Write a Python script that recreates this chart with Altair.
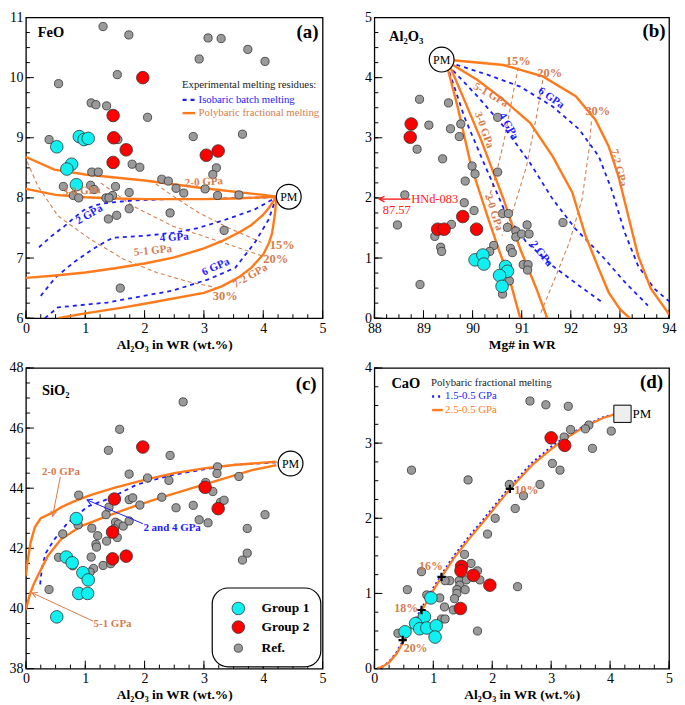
import math
import altair as alt
import numpy as np
import pandas as pd

FONT = "Liberation Serif, Times New Roman, Tinos, DejaVu Serif, serif"
ORANGE = "#ff7a1a"
LABEL = "#d67c4c"
ISO = "#cf8152"
BLUE = "#1c1cff"
RED = "#ff0000"
CYAN = "#10f0f0"
GRAY = "#9a9a9a"
H = 302

# ---------------- Panel (a) FeO vs Al2O3 ----------------
a_gray_x = [1.30, 1.735, 3.07, 3.29, 2.92, 3.74, 4.03, 0.55, 1.54, 1.10, 1.18, 1.36, 2.05, 0.39, 1.55, 2.82,
            3.65, 1.79, 1.92, 3.21, 3.15, 1.11, 1.22, 2.29, 2.40, 2.53, 2.66, 3.02, 3.23, 3.59, 0.63, 0.80,
            0.89, 1.09, 1.15, 1.51, 1.46, 1.35, 1.40, 1.74, 1.74, 2.43, 1.39, 1.53, 3.34, 1.59]
a_gray_y = [10.85, 10.71, 10.66, 10.65, 10.31, 10.47, 10.27, 9.90, 10.05, 9.58, 9.55, 9.53, 9.34, 8.97, 8.97, 9.02,
            9.06, 8.56, 8.51, 8.50, 8.39, 8.43, 8.43, 8.31, 8.28, 8.16, 8.08, 8.15, 8.04, 8.05, 8.19, 8.04,
            8.00, 8.21, 8.14, 8.19, 8.04, 8.00, 8.00, 8.09, 7.82, 7.75, 7.65, 7.71, 7.46, 6.50]
a_red_x = [1.97, 1.47, 1.48, 1.69, 1.47, 3.04, 3.24]
a_red_y = [10.0, 9.37, 9.00, 8.80, 8.59, 8.71, 8.78]
a_cyan_x = [0.52, 0.90, 0.98, 1.05, 0.77, 0.69, 0.85]
a_cyan_y = [8.85, 9.02, 8.97, 8.99, 8.56, 8.48, 8.22]

a_solid = {
    "2-0": ([0, 0.48, 1, 2, 3, 4, 4.22], [8.68, 8.47, 8.39, 8.29, 8.16, 8.05, 8.02]),
    "3-0": ([0, 0.5, 1, 1.5, 2, 2.5, 3, 3.5, 4, 4.22], [8.15, 8.05, 8.01, 7.99, 7.98, 7.98, 7.98, 7.99, 8.01, 8.02]),
    "5-1": ([0, 0.5, 1, 1.5, 2, 2.5, 3, 3.3, 3.6, 3.8, 4.0, 4.1, 4.22],
            [6.67, 6.71, 6.76, 6.83, 6.91, 7.01, 7.16, 7.28, 7.43, 7.55, 7.72, 7.84, 8.02]),
    "7-2": ([0.54, 1, 1.65, 2, 3, 3.3, 3.6, 3.8, 4.0, 4.1, 4.15, 4.2, 4.22],
            [6.0, 6.08, 6.18, 6.24, 6.42, 6.53, 6.69, 6.84, 7.06, 7.26, 7.42, 7.75, 8.02]),
}
a_blue = {
    "2": ([0.22, 0.45, 0.65, 0.85, 0.98, 1.15, 1.31, 1.6, 1.87, 2.4, 2.98, 3.6, 4.22],
          [7.18, 7.38, 7.53, 7.70, 7.80, 7.87, 7.91, 7.94, 7.96, 7.98, 7.98, 8.0, 8.01]),
    "4": ([0.25, 0.5, 0.81, 1.1, 1.35, 1.48, 2.0, 2.48, 2.9, 3.31, 3.86, 4.22],
          [6.37, 6.68, 6.93, 7.13, 7.28, 7.34, 7.37, 7.42, 7.50, 7.62, 7.81, 8.01]),
    "6": ([0.32, 0.54, 1.37, 2.48, 3.09, 3.53, 3.86, 4.09, 4.22],
          [6.0, 6.18, 6.26, 6.46, 6.65, 6.84, 7.26, 7.64, 8.01]),
}
a_iso = {
    "15": ([2.09, 2.48, 2.92, 3.42, 3.97], [8.30, 8.03, 7.75, 7.50, 7.26]),
    "20": ([1.26, 1.81, 2.48, 3.31, 3.97], [8.25, 7.86, 7.53, 7.26, 7.04]),
    "30": ([0.02, 0.2, 0.54, 1.09, 1.65, 2.2, 2.76, 3.2], [8.6, 8.2, 7.70, 7.31, 6.98, 6.76, 6.60, 6.51]),
}
a_lab_t = ["2-0 GPa", "3-0 GPa", "5-1 GPa", "7-2 GPa"]
a_lab_x = [3.0, 0.94, 2.14, 3.78]
a_lab_y = [8.26, 8.11, 7.12, 6.70]
a_lab_a = [357, 357, 354, 330]
a_pct_t = ["15%", "20%", "30%"]
a_pct_x = [4.32, 4.21, 3.36]
a_pct_y = [7.22, 6.98, 6.37]
a_blab_t = ["2 GPa", "4 GPa", "6 GPa"]
a_blab_x = [1.07, 2.5, 3.2]
a_blab_y = [7.72, 7.34, 6.85]
a_blab_a = [330, 356, 336]

# ---------------- Panel (b) Al2O3 vs Mg# ----------------
b_gray_x = [88.92, 89.51, 89.11, 89.55, 89.76, 89.73, 88.87, 89.39, 89.99, 90.05, 89.85, 90.51, 90.51, 88.62,
            89.83, 90.03, 88.47, 89.57, 89.23, 89.35, 89.37, 90.43, 90.35, 90.61, 90.73, 90.71, 90.88, 90.88,
            91.0, 91.11, 91.15, 90.77, 90.81, 91.03, 91.13, 91.12, 90.75, 90.61, 91.84, 88.93]
b_gray_y = [3.64, 3.58, 3.21, 3.15, 3.23, 3.02, 2.81, 2.65, 2.53, 2.40, 2.28, 2.43, 3.34, 2.05,
            1.92, 1.79, 1.55, 1.56, 1.36, 1.18, 1.11, 1.21, 1.11, 1.74, 1.74, 1.51, 1.45, 1.35,
            1.40, 1.55, 1.40, 1.16, 1.09, 0.89, 0.89, 0.80, 0.62, 0.40, 1.59, 0.56]
b_red_x = [88.75, 88.73, 89.29, 89.42, 89.8, 90.08]
b_red_y = [3.23, 3.01, 1.48, 1.48, 1.69, 1.48]
b_cyan_x = [90.05, 90.21, 90.23, 90.67, 90.71, 90.55, 90.6]
b_cyan_y = [0.97, 1.05, 0.90, 0.86, 0.78, 0.71, 0.53]

b_solid = {
    "2-0": ([89.47, 89.5, 89.7, 89.97, 90.3, 90.53, 90.77, 90.97], [4.2, 4.13, 3.5, 2.53, 1.70, 1.15, 0.60, 0.0]),
    "3-0": ([89.5, 89.57, 89.83, 90.17, 90.63, 90.97, 91.3, 91.52], [4.22, 4.13, 3.63, 2.97, 1.98, 1.15, 0.49, 0.0]),
    "5-1": ([89.55, 89.6, 90.1, 90.63, 91.17, 91.63, 92.03, 92.3, 92.57, 92.77, 93.0, 93.2],
            [4.24, 4.21, 3.96, 3.63, 3.25, 2.69, 2.09, 1.37, 0.82, 0.43, 0.15, 0.0]),
    "7-2": ([89.55, 89.6, 90.63, 91.43, 92.1, 92.5, 92.77, 92.97, 93.17, 93.37, 93.63, 93.97, 94.0],
            [4.29, 4.29, 4.21, 4.02, 3.69, 3.30, 2.86, 2.36, 1.70, 1.04, 0.49, 0.10, 0.06]),
}
b_blue = {
    "2": ([89.48, 89.5, 89.83, 90.23, 90.7, 91.1, 91.63, 92.17, 92.63],
          [4.22, 4.16, 3.35, 2.58, 1.70, 1.26, 0.87, 0.54, 0.27]),
    "4": ([89.5, 89.53, 90.1, 90.63, 91.17, 91.63, 92.1, 92.63, 93.1, 93.57],
          [4.22, 4.18, 3.69, 3.19, 2.58, 1.98, 1.48, 1.04, 0.60, 0.21]),
    "6": ([89.52, 89.57, 90.3, 90.97, 91.63, 92.17, 92.57, 92.83, 93.1, 93.37, 93.7, 94.0],
          [4.26, 4.24, 4.05, 3.85, 3.52, 3.14, 2.69, 2.14, 1.42, 0.87, 0.49, 0.28]),
}
b_iso = {
    "15": ([90.93, 90.8, 90.63, 90.47, 90.3], [4.17, 3.63, 2.91, 2.36, 1.92]),
    "20": ([91.43, 91.3, 91.1, 90.83, 90.6], [3.96, 3.35, 2.53, 1.81, 1.37]),
    "30": ([92.42, 92.37, 92.23, 91.97, 91.7, 91.37], [3.27, 2.80, 1.98, 1.26, 0.71, 0.05]),
}
b_lab_t = ["5-1 GPa", "3-0 GPa", "2-0 GPa", "7-2 GPa"]
b_lab_x = [90.37, 90.23, 90.43, 92.97]
b_lab_y = [3.71, 3.13, 1.76, 2.5]
b_lab_a = [30, 70, 72, 75]
b_pct_t = ["15%", "20%", "30%"]
b_pct_x = [90.93, 91.57, 92.55]
b_pct_y = [4.27, 4.07, 3.45]
b_blab_t = ["6 GPa", "4 GPa", "2 GPa"]
b_blab_x = [91.6, 90.73, 91.4]
b_blab_y = [3.66, 3.19, 1.07]
b_blab_a = [35, 60, 52]

# ---------------- Panel (c) SiO2 vs Al2O3 ----------------
c_gray_x = [2.65, 1.58, 1.39, 2.43, 1.74, 2.05, 2.41, 3.59, 3.23, 3.22, 3.03, 3.15, 3.28, 3.34, 0.89, 1.74, 1.80,
            2.29, 1.92, 2.53, 2.82, 1.35, 1.40, 1.51, 1.56, 1.64, 1.74, 1.49, 1.54, 0.88, 1.11, 1.21, 1.18, 1.19,
            1.36, 0.62, 2.92, 3.07, 4.03, 3.73, 3.73, 3.65, 0.55, 1.10, 1.14, 1.08, 1.30, 1.43, 0.39, 0.79]
c_gray_y = [46.87, 45.96, 45.26, 45.09, 44.47, 44.34, 44.26, 44.39, 44.71, 44.49, 44.19, 43.89, 43.53, 43.60, 43.77,
            43.62, 43.68, 43.70, 43.44, 43.35, 43.43, 43.12, 43.37, 42.87, 42.81, 42.74, 42.91, 42.65, 42.36, 42.78,
            42.67, 42.42, 42.13, 42.04, 42.24, 42.48, 42.95, 42.85, 43.12, 42.66, 41.84, 41.61, 41.70, 41.71, 41.33,
            41.21, 41.43, 41.49, 40.63, 41.42]
c_red_x = [1.97, 1.49, 1.46, 1.46, 1.69, 3.02, 3.24]
c_red_y = [45.37, 43.64, 42.54, 41.65, 41.74, 44.03, 43.32]
c_cyan_x = [0.85, 0.68, 0.78, 0.96, 1.05, 0.89, 1.04, 0.52]
c_cyan_y = [42.99, 41.71, 41.52, 41.19, 40.95, 40.5, 40.5, 39.72]

c_solid = {
    "2-0": ([0, 0.03, 0.08, 0.15, 0.25, 0.43, 0.6, 0.81, 1.1, 1.5, 2, 2.5, 3, 3.5, 4, 4.22],
            [41.09, 41.6, 42.2, 42.7, 43.0, 43.17, 43.37, 43.56, 43.78, 44.02, 44.28, 44.5, 44.66, 44.77, 44.85,
             44.88]),
    "5-1": ([0, 0.03, 0.07, 0.13, 0.2, 0.37, 0.59, 0.93, 1.37, 1.81, 2.3, 2.8, 3.25, 3.81, 4.22],
            [39.94, 40.2, 40.49, 40.8, 41.09, 41.75, 42.30, 42.74, 43.07, 43.39, 43.7, 44.0, 44.27, 44.6, 44.77]),
}
c_blue = {
    "2-4": ([0.24, 0.25, 0.27, 0.3, 0.34, 0.48, 0.70, 1.04, 1.42, 1.87, 2.42, 2.98, 3.53, 4.22],
            [40.8, 41.0, 41.31, 41.6, 41.86, 42.30, 42.84, 43.39, 43.67, 44.12, 44.42, 44.62, 44.78, 44.86]),
}

# ---------------- Panel (d) CaO vs Al2O3 ----------------
d_gray_x = [2.64, 2.91, 3.29, 3.33, 3.64, 3.58, 4.02, 3.22, 3.70, 3.02, 3.15, 2.81, 2.29, 2.53, 2.39, 2.05, 1.92,
            0.63, 1.59, 1.53, 1.64, 1.75, 1.79, 0.80, 1.28, 1.20, 1.44, 1.45, 1.56, 1.40, 1.54, 1.40, 1.36, 1.34,
            1.19, 1.11, 0.89, 0.56, 1.14, 1.20, 0.77, 1.75, 2.43, 0.40]
d_gray_y = [3.56, 3.51, 3.49, 3.18, 3.24, 3.19, 3.16, 3.08, 2.93, 2.73, 2.64, 2.45, 2.45, 2.30, 2.13, 2.00, 1.79,
            2.64, 2.51, 1.52, 1.40, 1.30, 1.18, 1.29, 1.17, 1.17, 1.17, 1.11, 1.18, 1.05, 1.05, 1.00, 0.93, 0.78,
            0.82, 0.94, 0.98, 1.05, 0.66, 0.66, 0.52, 0.50, 1.09, 0.47]
d_red_x = [3.0, 3.23, 1.48, 1.47, 1.68, 1.96, 1.46]
d_red_y = [3.07, 2.97, 1.36, 1.30, 1.24, 1.11, 0.80]
d_cyan_x = [0.96, 0.85, 0.70, 0.77, 0.89, 1.05, 1.03, 0.52]
d_cyan_y = [0.94, 0.69, 0.60, 0.53, 0.54, 0.57, 0.42, 0.49]

d_curve_x = [0.05, 0.15, 0.26, 0.38, 0.5, 0.65, 0.81, 1.0, 1.14, 1.35, 1.58, 1.91, 2.30, 2.68, 3.0, 3.24, 3.57,
             3.90, 4.12, 4.2]
d_orange_y = [0.0, 0.03, 0.09, 0.2, 0.37, 0.57, 0.78, 1.04, 1.22, 1.47, 1.70, 2.01, 2.39, 2.71, 2.92, 3.06, 3.22,
              3.34, 3.39, 3.40]
d_blue_y = [0.0, 0.03, 0.1, 0.22, 0.39, 0.59, 0.81, 1.07, 1.25, 1.50, 1.73, 2.04, 2.42, 2.74, 2.95, 3.08, 3.23,
            3.35, 3.39, 3.40]
d_cross_x = [0.48, 0.80, 1.14, 2.30]
d_cross_y = [0.38, 0.78, 1.22, 2.39]
d_pct_t = ["20%", "18%", "16%", "10%"]
d_pct_x = [0.70, 0.54, 0.96, 2.58]
d_pct_y = [0.28, 0.80, 1.37, 2.37]


# ---------------- helpers ----------------
def curves_df(curves):
    rows = []
    for name, (xs, ys) in curves.items():
        for i, (x, y) in enumerate(zip(xs, ys)):
            rows.append({"c": name, "i": i, "x": x, "y": y})
    return pd.DataFrame(rows)


def pts(xs, ys):
    return pd.DataFrame({"x": xs, "y": ys})


def txt(ts, xs, ys, angs=None):
    return pd.DataFrame({"t": ts, "x": xs, "y": ys, "a": angs if angs is not None else [0] * len(ts)})


class Panel:
    def __init__(self, xdom, ydom, xtitle, xlabels, ylabels, xminor, yminor, w, h=H):
        self.xdom, self.ydom, self.w, self.h = xdom, ydom, w, h
        self.xs = alt.Scale(domain=xdom, nice=False, zero=False)
        self.ys = alt.Scale(domain=ydom, nice=False, zero=False)
        self.xax = alt.Axis(title=xtitle, values=xlabels, ticks=False, domain=False, grid=False,
                            labelPadding=3, titlePadding=2, format="d", labelFlush=False)
        self.yax = alt.Axis(title=None, values=ylabels, ticks=False, domain=False, grid=False,
                            labelPadding=3, format="d", labelFlush=False)
        self.layers = []
        xmaj = pd.DataFrame({"x": xlabels})
        xmin = pd.DataFrame({"x": list(np.arange(xdom[0], xdom[1] + 1e-9, xminor))})
        ymaj = pd.DataFrame({"y": ylabels})
        ymin = pd.DataFrame({"y": list(np.arange(ydom[0], ydom[1] + 1e-9, yminor))})
        for df, ln in ((xmin, 4), (xmaj, 8)):
            self.layers.append(alt.Chart(df).mark_rule(color="black", strokeWidth=1).encode(
                x=self.X(), y=alt.value(h), y2=alt.value(h - ln)))
        for df, ln in ((ymin, 4), (ymaj, 8)):
            self.layers.append(alt.Chart(df).mark_rule(color="black", strokeWidth=1).encode(
                y=self.Y(), x=alt.value(0), x2=alt.value(ln)))

    def X(self, f="x"):
        return alt.X(f, type="quantitative", scale=self.xs, axis=self.xax)

    def Y(self, f="y"):
        return alt.Y(f, type="quantitative", scale=self.ys, axis=self.yax)

    def lines(self, curves, color, width, dash=None):
        kw = dict(color=color, strokeWidth=width, clip=True)
        if dash:
            kw["strokeDash"] = dash
        self.layers.append(alt.Chart(curves_df(curves)).mark_line(**kw).encode(
            x=self.X(), y=self.Y(), detail="c:N", order="i:Q"))

    def points(self, df, fill, size, sw=0.8):
        self.layers.append(alt.Chart(df).mark_point(
            shape="circle", filled=True, fill=fill, stroke="#333333", strokeWidth=sw, size=size,
            opacity=1).encode(x=self.X(), y=self.Y()))

    def texts(self, df, color, size, weight="bold", align="center", baseline="middle"):
        self.layers.append(alt.Chart(df).mark_text(
            font=FONT, fontSize=size, fontWeight=weight, color=color, align=align, baseline=baseline).encode(
            x=self.X(), y=self.Y(), text="t:N", angle=alt.Angle("a:Q", scale=None)))

    def segment(self, x1, y1, x2, y2, color, width=1.0, dash=None, head=True):
        df = pd.DataFrame({"c": ["s", "s"], "i": [0, 1], "x": [x1, x2], "y": [y1, y2]})
        kw = dict(color=color, strokeWidth=width)
        if dash:
            kw["strokeDash"] = dash
        self.layers.append(alt.Chart(df).mark_line(**kw).encode(
            x=self.X(), y=self.Y(), detail="c:N", order="i:Q"))
        if head:
            kx = self.w / (self.xdom[1] - self.xdom[0])
            ky = self.h / (self.ydom[1] - self.ydom[0])
            dx = (x2 - x1) * kx
            dyd = -(y2 - y1) * ky
            ang = math.degrees(math.atan2(dx, -dyd)) % 360
            hd = pd.DataFrame({"x": [x2], "y": [y2], "a": [ang]})
            self.layers.append(alt.Chart(hd).mark_point(
                shape="M -0.55 1 L 0 0 L 0.55 1", filled=False, stroke=color, strokeWidth=width,
                size=110, opacity=1).encode(x=self.X(), y=self.Y(), angle=alt.Angle("a:Q", scale=None)))

    def pm_circle(self, x, y):
        self.layers.append(alt.Chart(pts([x], [y])).mark_point(
            shape="circle", filled=True, fill="white", stroke="black", strokeWidth=1.2, size=620,
            opacity=1).encode(x=self.X(), y=self.Y()))
        self.texts(txt(["PM"], [x], [y]), "black", 12, weight="normal")

    def chart(self):
        return alt.layer(*self.layers).properties(width=self.w, height=self.h)


AL_TITLE = "Al\u2082O\u2083 in WR (wt.%)"
WL, WR = 298, 296
BIG, SMALL = 160, 68
GPA_FS, PCT_FS, LEG_FS = 11, 12.5, 10.8

# ---- (a)
pa = Panel([0, 5], [6, 11], AL_TITLE, [0, 1, 2, 3, 4, 5], [6, 7, 8, 9, 10, 11], 0.25, 0.25, WL)
pa.lines(a_iso, ISO, 1.1, [4, 3])
pa.lines(a_blue, BLUE, 1.8, [4, 4])
pa.lines(a_solid, ORANGE, 2.4)
pa.points(pts(a_gray_x, a_gray_y), GRAY, SMALL)
pa.points(pts(a_red_x, a_red_y), RED, BIG)
pa.points(pts(a_cyan_x, a_cyan_y), CYAN, BIG)
pa.pm_circle(4.43, 8.02)
pa.texts(txt(a_lab_t, a_lab_x, a_lab_y, a_lab_a), LABEL, GPA_FS)
pa.texts(txt(a_pct_t, a_pct_x, a_pct_y), LABEL, PCT_FS)
pa.texts(txt(a_blab_t, a_blab_x, a_blab_y, a_blab_a), BLUE, GPA_FS)
pa.texts(txt(["FeO"], [0.2], [10.74]), "black", 14.5, align="left")
pa.texts(txt(["(a)"], [4.93], [10.76]), "black", 19, align="right")
pa.texts(txt(["Experimental melting residues:"], [2.63], [9.87]), "#222222", LEG_FS, weight="normal",
         align="left")
pa.texts(txt(["Isobaric batch melting"], [2.91], [9.63]), BLUE, LEG_FS, weight="normal", align="left")
pa.texts(txt(["Polybaric fractional melting"], [2.91], [9.41]), LABEL, LEG_FS, weight="normal", align="left")
pa.segment(2.64, 9.63, 2.85, 9.63, BLUE, 2.2, dash=[4, 4], head=False)
pa.segment(2.64, 9.41, 2.85, 9.41, ORANGE, 2.4, head=False)

# ---- (b)
pb = Panel([88, 94], [0, 5], "Mg# in WR", [88, 89, 90, 91, 92, 93, 94], [0, 1, 2, 3, 4, 5], 0.25, 0.25, WR)
pb.lines(b_iso, ISO, 1.1, [4, 3])
pb.lines(b_blue, BLUE, 1.8, [4, 4])
pb.lines(b_solid, ORANGE, 2.4)
pb.points(pts(b_gray_x, b_gray_y), GRAY, SMALL)
pb.points(pts(b_red_x, b_red_y), RED, BIG)
pb.points(pts(b_cyan_x, b_cyan_y), CYAN, BIG)
pb.pm_circle(89.37, 4.30)
pb.texts(txt(b_lab_t, b_lab_x, b_lab_y, b_lab_a), LABEL, GPA_FS)
pb.texts(txt(b_pct_t, b_pct_x, b_pct_y), LABEL, PCT_FS)
pb.texts(txt(b_blab_t, b_blab_x, b_blab_y, b_blab_a), BLUE, GPA_FS)
pb.texts(txt(["Al\u2082O\u2083"], [88.3], [4.68]), "black", 14.5, align="left")
pb.texts(txt(["(b)"], [93.93], [4.78]), "black", 19, align="right")
pb.segment(88.73, 1.98, 88.1, 1.98, "#ff2020", 1.4)
pb.texts(txt(["HNd-083"], [88.75], [1.98]), "#ff2020", 12.5, weight="normal", align="left")
pb.texts(txt(["87.57"], [88.17], [1.80]), "#ff2020", 12.5, weight="normal", align="left")

# ---- (c)
pc = Panel([0, 5], [38, 48], AL_TITLE, [0, 1, 2, 3, 4, 5], [38, 40, 42, 44, 46, 48], 0.25, 0.5, WL)
pc.lines(c_blue, BLUE, 1.8, [4, 4])
pc.lines(c_solid, ORANGE, 2.4)
pc.points(pts(c_gray_x, c_gray_y), GRAY, SMALL)
pc.points(pts(c_red_x, c_red_y), RED, BIG)
pc.points(pts(c_cyan_x, c_cyan_y), CYAN, BIG)
pc.pm_circle(4.46, 44.82)
pc.segment(0.58, 44.38, 0.45, 43.07, LABEL, 1.0)
pc.segment(1.97, 42.82, 1.03, 43.61, BLUE, 1.0)
pc.segment(1.13, 39.58, 0.105, 40.52, LABEL, 1.0)
pc.texts(txt(["2-0 GPa"], [0.59], [44.55]), LABEL, GPA_FS)
pc.texts(txt(["2 and 4 GPa"], [1.98], [42.68]), BLUE, GPA_FS, align="left")
pc.texts(txt(["5-1 GPa"], [1.14], [39.47]), LABEL, GPA_FS, align="left")
pc.texts(txt(["SiO\u2082"], [0.27], [47.23]), "black", 14.5, align="left")
pc.texts(txt(["(c)"], [4.9], [47.45]), "black", 19, align="right")
legbox = pd.DataFrame({"x": [3.14], "x2": [4.97], "y": [38.06], "y2": [40.68]})
pc.layers.append(alt.Chart(legbox).mark_rect(
    cornerRadius=16, fill="white", stroke="black", strokeWidth=1.2).encode(
    x=pc.X(), x2=alt.X2("x2"), y=pc.Y(), y2=alt.Y2("y2")))
pc.points(pts([3.58], [40.0]), CYAN, BIG)
pc.points(pts([3.58], [39.38]), RED, BIG)
pc.points(pts([3.58], [38.68]), GRAY, SMALL)
pc.texts(txt(["Group 1", "Group 2", "Ref."], [3.97, 3.97, 3.97], [40.0, 39.38, 38.68]), "black", 13.5,
         align="left")

# ---- (d)
pd_ = Panel([0, 5], [0, 4], AL_TITLE, [0, 1, 2, 3, 4, 5], [0, 1, 2, 3, 4], 0.25, 0.25, WR)
pd_.lines({"b": (d_curve_x, d_blue_y)}, BLUE, 2.2, [2, 3])
pd_.lines({"o": (d_curve_x, d_orange_y)}, ORANGE, 2.2)
pd_.points(pts(d_gray_x, d_gray_y), GRAY, SMALL)
pd_.points(pts(d_red_x, d_red_y), RED, BIG)
pd_.points(pts(d_cyan_x, d_cyan_y), CYAN, BIG)
pd_.layers.append(alt.Chart(pts(d_cross_x, d_cross_y)).mark_point(
    shape="M -1 0 L 1 0 M 0 -1 L 0 1", filled=False, stroke="black", strokeWidth=2.2, size=70,
    opacity=1).encode(x=pd_.X(), y=pd_.Y()))
pd_.texts(txt(d_pct_t, d_pct_x, d_pct_y), LABEL, 12)
pd_.layers.append(alt.Chart(pts([4.21], [3.39])).mark_point(
    shape="square", filled=True, fill="#eeeeee", stroke="black", strokeWidth=1, size=300,
    opacity=1).encode(x=pd_.X(), y=pd_.Y()))
pd_.texts(txt(["PM"], [4.38], [3.39]), "black", 13, weight="normal", align="left")
pd_.texts(txt(["CaO"], [0.29], [3.79]), "black", 14.5, align="left")
pd_.texts(txt(["(d)"], [4.9], [3.81]), "black", 19, align="right")
pd_.texts(txt(["Polybaric fractional melting"], [0.96], [3.80]), "#222222", LEG_FS, weight="normal",
          align="left")
pd_.texts(txt(["1.5-0.5 GPa"], [1.2], [3.62]), BLUE, LEG_FS, weight="normal", align="left")
pd_.texts(txt(["2.5-0.5 GPa"], [1.2], [3.44]), ORANGE, LEG_FS, weight="normal", align="left")
pd_.segment(0.98, 3.62, 1.14, 3.62, BLUE, 2.4, dash=[2, 4], head=False)
pd_.segment(0.98, 3.44, 1.16, 3.44, ORANGE, 2.4, head=False)

chart = alt.vconcat(
    alt.hconcat(pa.chart(), pb.chart(), spacing=36),
    alt.hconcat(pc.chart(), pd_.chart(), spacing=36),
    spacing=8,
).properties(
    padding={"left": 0, "top": 0, "right": 0, "bottom": 0}
).configure_view(
    stroke="black", strokeWidth=1.3
).configure_axis(
    labelFont=FONT, labelFontSize=14, labelColor="black",
    titleFont=FONT, titleFontSize=13.5, titleFontWeight="bold", titleColor="black"
)

chart.save("out.html", embed_options={"renderer": "svg", "actions": False})
